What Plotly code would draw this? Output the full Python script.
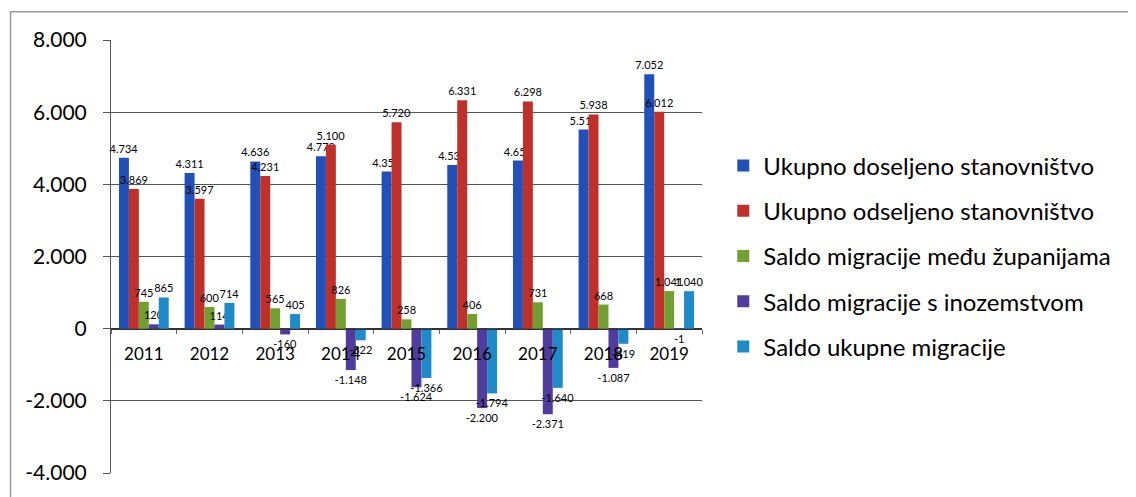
import plotly.graph_objects as go

years = ["2011", "2012", "2013", "2014", "2015", "2016", "2017", "2018", "2019"]
doseljeno = [4734, 4311, 4636, 4778, 4354, 4537, 4658, 5519, 7052]
odseljeno = [3869, 3597, 4231, 5100, 5720, 6331, 6298, 5938, 6012]
saldo_zup = [745, 600, 565, 826, 258, 406, 731, 668, 1041]
saldo_inoz = [120, 114, -160, -1148, -1624, -2200, -2371, -1087, -1]
saldo_uk = [865, 714, 405, -322, -1366, -1794, -1640, -419, 1040]

names = ["Ukupno doseljeno stanovništvo", "Ukupno odseljeno stanovništvo",
         "Saldo migracije među županijama", "Saldo migracije s inozemstvom",
         "Saldo ukupne migracije"]
colors = ["#2050B8", "#C0302A", "#72A030", "#503C9C", "#1F8AC8"]
series = [doseljeno, odseljeno, saldo_zup, saldo_inoz, saldo_uk]
yticks = [-4000, -2000, 0, 2000, 4000, 6000, 8000]

def fmt(v):
    return f"{v:,}".replace(",", ".")

fig = go.Figure()
for i, (nm, col, vals) in enumerate(zip(names, colors, series)):
    fig.add_trace(go.Bar(
        x=years, y=vals, name=nm, marker_color=col, marker_line_width=0,
        text=[fmt(v) for v in vals], textposition="outside", textangle=0,
        constraintext="none",
        textfont=dict(size=11, color="black", family="Lato"),
        cliponaxis=False, legendgroup=f"g{i}",
    ))

fig.update_layout(
    width=1120, height=489,
    margin=dict(l=103, r=412, t=32, b=24),
    paper_bgcolor="white", plot_bgcolor="white",
    barmode="group", bargap=0.242, bargroupgap=0,
    font=dict(family="Lato", color="black"),
    showlegend=True,
    legend=dict(x=1.036, y=0.761, xanchor="left", yanchor="top",
                font=dict(size=24, color="black", family="Lato"),
                tracegroupgap=11, bgcolor="rgba(0,0,0,0)"),
    xaxis=dict(type="category", range=[-0.5, 8.5], anchor="free", position=1/3,
               showgrid=False, zeroline=False, showline=True,
               linecolor="#333333", linewidth=1,
               ticks="outside", tickson="boundaries", ticklen=4,
               tickcolor="#666666",
               tickfont=dict(size=17, color="black", family="Lato"),
               ticklabelstandoff=10),
    yaxis=dict(range=[-4000, 8000], tickvals=yticks,
               ticktext=[fmt(v) for v in yticks],
               tickfont=dict(size=21, color="black", family="Lato"),
               showgrid=True, gridcolor="#555555", gridwidth=1.2,
               zeroline=True, zerolinecolor="#333333", zerolinewidth=1,
               showline=True, linecolor="#555555", linewidth=1,
               ticks="outside", ticklen=7, tickcolor="#555555",
               ticklabelstandoff=12),
    shapes=[dict(type="rect", xref="paper", yref="paper",
                 x0=-0.170, x1=2.0, y0=-0.3, y1=1.065,
                 line=dict(color="#9a9a9a", width=1.5), fillcolor="rgba(0,0,0,0)",
                 layer="below")],
)

fig.write_html("out.html")
